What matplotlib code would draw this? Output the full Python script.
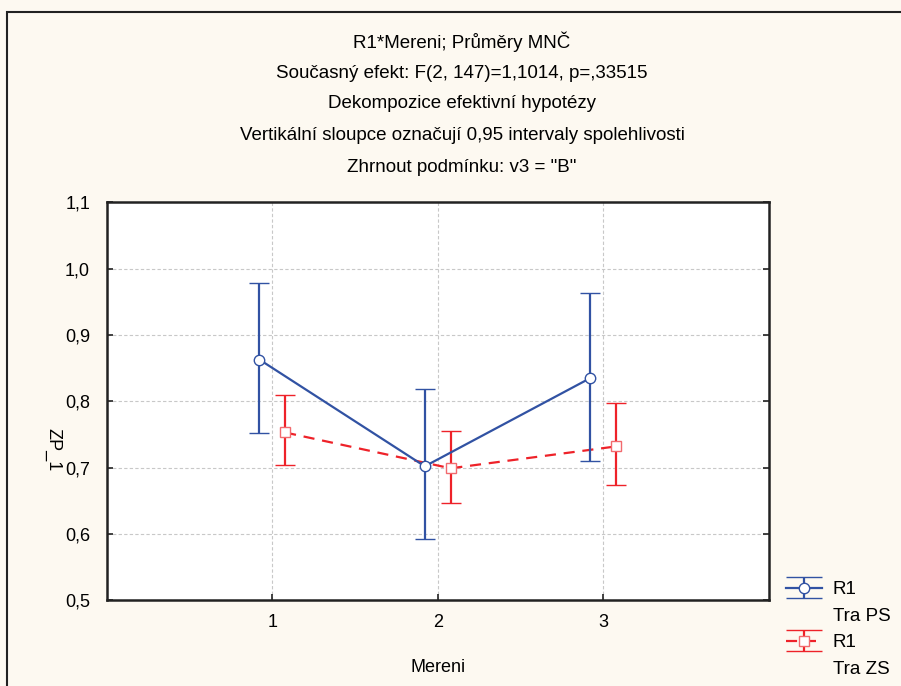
import numpy as np
import matplotlib
matplotlib.use("Agg")
import matplotlib.pyplot as plt
from matplotlib.patches import Rectangle
from matplotlib.lines import Line2D
from matplotlib.legend_handler import HandlerErrorbar

plt.rcParams['font.family'] = ['Liberation Sans', 'DejaVu Sans']

# data
mereni = np.array([1, 2, 3])
ps_mean = [0.863, 0.702, 0.835]
ps_low = [0.752, 0.592, 0.710]
ps_high = [0.979, 0.819, 0.964]
zs_mean = [0.753, 0.699, 0.732]
zs_low = [0.704, 0.646, 0.674]
zs_high = [0.810, 0.755, 0.798]

yticks = [0.5, 0.6, 0.7, 0.8, 0.9, 1.0, 1.1]
ytick_labels = ['0,5', '0,6', '0,7', '0,8', '0,9', '1,0', '1,1']

titles = ['R1*Mereni; Průměry MNČ',
          'Současný efekt: F(2, 147)=1,1014, p=,33515',
          'Dekompozice efektivní hypotézy',
          'Vertikální sloupce označují 0,95 intervaly spolehlivosti',
          'Zhrnout podmínku: v3 = "B"']
legend_labels = ['R1', 'Tra PS', 'R1', 'Tra ZS']

blue = '#3152a3'
red = '#ee2229'
bg = '#fdf9f1'


# caps in the legend run over the whole handle width
class WideCapHandler(HandlerErrorbar):
    def create_artists(self, legend, orig_handle, xdescent, ydescent, width, height,
                       fontsize, trans):
        arts = super().create_artists(legend, orig_handle, xdescent, ydescent, width,
                                      height, fontsize, trans)
        for a in arts:
            if isinstance(a, Line2D) and a.get_marker() == '_':
                a.set_markersize(width)
        return arts


W, H = 901, 686
fig = plt.figure(figsize=(W / 100, H / 100), dpi=100, facecolor=bg)
ax = fig.add_axes([106.7 / W, 1 - 600.3 / H, 662 / W, 398 / H])
ax.set_facecolor('white')

# outer frame (cut by the image edges)
fig.patches.append(Rectangle((7 / W, -0.1), 1.2, 1 - 12 / H + 0.1, transform=fig.transFigure,
                             fill=False, edgecolor='#222222', linewidth=1.5))

off = 0.078
ps_err = [np.array(ps_mean) - np.array(ps_low), np.array(ps_high) - np.array(ps_mean)]
zs_err = [np.array(zs_mean) - np.array(zs_low), np.array(zs_high) - np.array(zs_mean)]

eb1 = ax.errorbar(mereni - off, ps_mean, yerr=ps_err, color=blue, linewidth=1.6,
                  elinewidth=1.6, capsize=7.5, capthick=1.6, marker='o', markersize=7.5,
                  markerfacecolor='white', markeredgecolor=blue, markeredgewidth=1.0,
                  zorder=4)
eb2 = ax.errorbar(mereni + off, zs_mean, yerr=zs_err, color=red, linewidth=1.6,
                  linestyle=(0, (5, 3.5)), elinewidth=1.6, capsize=7.5, capthick=1.6,
                  marker='s', markersize=7.5, markerfacecolor='white',
                  markeredgecolor='#f26a6e', markeredgewidth=1.0, zorder=3)
eb2[-1][0].set_linestyle('-')

ax.set_xlim(0, 4)
ax.set_ylim(0.5, 1.1)
ax.set_xticks(mereni)
ax.set_xticklabels([str(m) for m in mereni])
ax.set_yticks(yticks)
ax.set_yticklabels(ytick_labels)
ax.grid(True, color='#c8c8c8', linestyle=(0, (3, 2)), linewidth=0.8)
ax.set_axisbelow(True)
ax.tick_params(direction='in', length=4, width=1.2, labelsize=13, color='#222222',
               right=True, pad=10)
ax.tick_params(axis='y', pad=12)
for s in ax.spines.values():
    s.set_linewidth(1.8)
    s.set_color('#222222')

ax.set_xlabel('Mereni', fontsize=13, labelpad=20)
fig.text(53 / W, 1 - 450 / H, 'ZP_1', rotation=270, fontsize=13, ha='center', va='center')

ty = [42, 73, 104, 136, 168]
for t, y in zip(titles, ty):
    fig.text(462 / W, 1 - y / H, t, fontsize=13.5, ha='center', va='center')

blank = Line2D([], [], linestyle='none')
leg = fig.legend(handles=[eb1, blank, eb2, blank], labels=legend_labels,
                 handler_map={type(eb1): WideCapHandler(yerr_size=0.55)},
                 loc='upper left', bbox_to_anchor=(786 / W, 1 - 581 / H),
                 frameon=False, fontsize=13.5, handlelength=1.9, handletextpad=0.6,
                 labelspacing=0.5, borderpad=0, borderaxespad=0)

fig.savefig('out.png', dpi=100, facecolor=bg)
